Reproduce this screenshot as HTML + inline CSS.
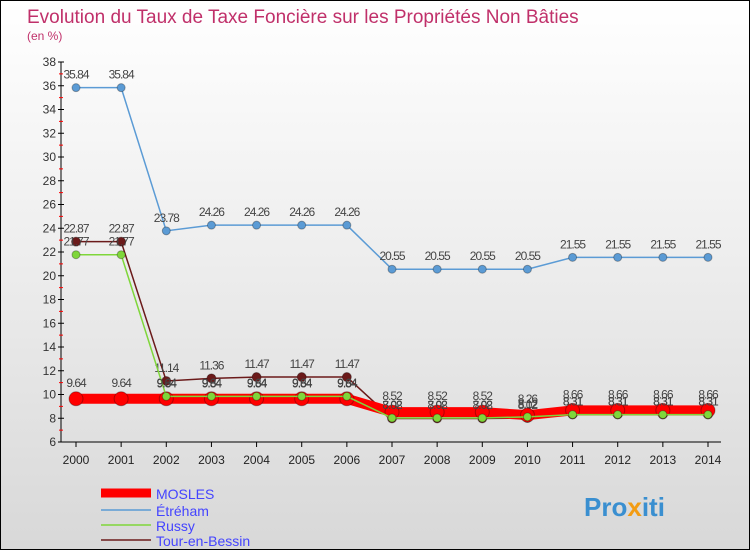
<!DOCTYPE html>
<html><head><meta charset="utf-8"><style>
body{margin:0;}
#c{width:748px;height:548px;border:1px solid #000;position:relative;overflow:hidden;background:linear-gradient(#fff 0%,#f0f0f0 40%,#d8d8d8 100%);font-family:"Liberation Sans",sans-serif;}
</style></head><body>
<div id="c">
<svg id="s" width="748" height="548" xmlns="http://www.w3.org/2000/svg">
<text x="26" y="22" font-size="19" fill="#c0306a">Evolution du Taux de Taxe Foncière sur les Propriétés Non Bâties</text>
<text x="26" y="39" font-size="12" fill="#c0306a">(en %)</text>
<g id="axes"></g><g id="series"></g>
<g>
<line x1="100" y1="492" x2="150" y2="492" stroke="#f00" stroke-width="9"/>
<text x="155" y="498" font-size="14" fill="#44f">MOSLES</text>
<line x1="100" y1="509" x2="150" y2="509" stroke="#5b9bd5" stroke-width="1.5"/>
<text x="155" y="515" font-size="14" fill="#44f">Étréham</text>
<line x1="100" y1="524" x2="150" y2="524" stroke="#7fd63a" stroke-width="1.5"/>
<text x="155" y="530" font-size="14" fill="#44f">Russy</text>
<line x1="100" y1="539" x2="150" y2="539" stroke="#6b1a1a" stroke-width="1.5"/>
<text x="155" y="545" font-size="14" fill="#44f">Tour-en-Bessin</text>
</g>
<text x="583" y="515" font-size="26" font-weight="bold" fill="#3a8fd0">Pro<tspan fill="#f39c12">x</tspan>iti</text>
</svg></div>
<script>
const years=[2000,2001,2002,2003,2004,2005,2006,2007,2008,2009,2010,2011,2012,2013,2014];
const yTicks=[6,8,10,12,14,16,18,20,22,24,26,28,30,32,34,36,38];
const mosles=[9.64,9.64,9.64,9.64,9.64,9.64,9.64,8.52,8.52,8.52,8.26,8.66,8.66,8.66,8.66];
const etreham=[35.84,35.84,23.78,24.26,24.26,24.26,24.26,20.55,20.55,20.55,20.55,21.55,21.55,21.55,21.55];
const russy=[21.77,21.77,9.84,9.84,9.84,9.84,9.84,8.02,8.02,8.02,8.12,8.31,8.31,8.31,8.31];
const tour=[22.87,22.87,11.14,11.36,11.47,11.47,11.47,7.98,7.98,7.98,8.02,8.31,8.31,8.31,8.31];
const NS="http://www.w3.org/2000/svg";
const X=i=>75+i*(632/14), Y=v=>441-(v-6)*(380/32);
function mk(t,a,p){const e=document.createElementNS(NS,t);for(const k in a)e.setAttribute(k,a[k]);p.appendChild(e);return e;}
const ax=document.getElementById('axes'), sr=document.getElementById('series');
const yl=mk('line',{x1:60,y1:61,x2:60,y2:441,stroke:'#000'},ax);


const xl=mk('line',{x1:60,y1:441,x2:720,y2:441,stroke:'#000'},ax);


yTicks.forEach(v=>{
 mk('line',{x1:57,y1:Y(v),x2:63,y2:Y(v),stroke:'#000'},ax);
 if(v<38) mk('line',{x1:58,y1:Y(v+1),x2:62,y2:Y(v+1),stroke:'#f00'},ax);
 const t=mk('text',{x:55,y:Y(v)+4,'font-size':12,'text-anchor':'end',fill:'#333'},ax);t.textContent=v;
 
 
});
years.forEach((yr,i)=>{
 mk('line',{x1:X(i),y1:441,x2:X(i),y2:446,stroke:'#000'},ax);
 const t=mk('text',{x:X(i),y:463,'font-size':12,'text-anchor':'middle',fill:'#222'},ax);t.textContent=yr;
 
 
});
function series(d,col,w,r,name,lab,off){
 const g=mk('g',{},sr);
 
 
 mk('polyline',{points:d.map((v,i)=>X(i)+','+Y(v)).join(' '),fill:'none',stroke:col,'stroke-width':w},g);
 d.forEach((v,i)=>{
  const c=mk('circle',{cx:X(i),cy:Y(v),r:r,fill:col,stroke:'rgba(0,0,0,0.3)'},g);
  
  
  const t=mk('text',{x:X(i),y:Y(v)-off,'font-size':12,'text-anchor':'middle',fill:'#444','letter-spacing':'-1'},g);t.textContent=lab(v);
 });
}
const f=v=>String(v);
series(etreham,'#5b9bd5',1.5,4,'series-etreham',f,9);
series(tour,'#6b1a1a',1.5,4.5,'series-tour-en-bessin',f,9);
series(mosles,'#f00',10,7,'series-mosles',f,12);
series(russy,'#7fd63a',1.5,4,'series-russy',f,9);
</script>
</body></html>
